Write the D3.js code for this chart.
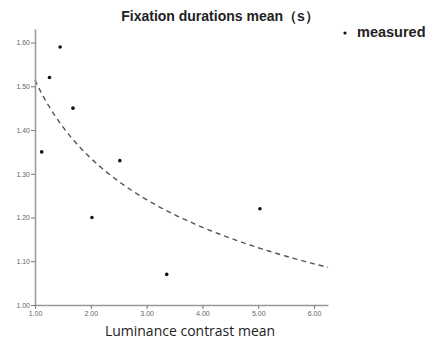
<!DOCTYPE html>
<html>
<head>
<meta charset="utf-8">
<title>Fixation durations</title>
<script src="https://d3js.org/d3.v7.min.js"></script>
<style>
  body { margin: 0; background: #fff; }
</style>
</head>
<body>
<div id="chart"></div>
<script>
// measured points
let contrast = [1.12, 1.26, 1.45, 1.68, 2.02, 2.52, 3.36, 5.03];
let duration = [1.35, 1.52, 1.59, 1.45, 1.20, 1.33, 1.07, 1.22];

let xTicks = [1, 2, 3, 4, 5, 6];
let yTicks = [1.0, 1.1, 1.2, 1.3, 1.4, 1.5, 1.6];

let svgw = 427, svgh = 340;
let margen = {sup: 29, izq: 35, der: 99, inf: 35};
let vizw = svgw - margen.izq - margen.der;
let vizh = svgh - margen.sup - margen.inf;

let svg = d3.select('#chart').append('svg')
  .attr('width', svgw).attr('height', svgh)
  .style('font-family', 'Liberation Sans, Arial, sans-serif');

let escala_x = d3.scaleLinear().domain([1, 6.25]).range([0, vizw]);
let escala_y = d3.scaleLinear().domain([1, 1.631]).range([vizh, 0]);

let g = svg.append('g').attr('transform', `translate(${margen.izq},${margen.sup})`);

// power fit y = b0 * x^b1 on log-log (same as the original curve estimation)
let lx = contrast.map(Math.log), ly = duration.map(Math.log);
let mx = d3.mean(lx), my = d3.mean(ly);
let b1 = d3.sum(lx, (v, i) => (v - mx) * (ly[i] - my)) / d3.sum(lx, v => (v - mx) * (v - mx));
let b0 = Math.exp(my - b1 * mx);
let fitX = d3.range(1, 6.3, 0.05);

g.append('path')
  .datum(fitX)
  .attr('d', d3.line().x(d => escala_x(d)).y(d => escala_y(b0 * Math.pow(d, b1))))
  .attr('fill', 'none')
  .attr('stroke', '#555')
  .attr('stroke-width', 1.4)
  .attr('stroke-dasharray', '5,4');

// axes
let eje_x = d3.axisBottom(escala_x).tickValues(xTicks).tickFormat(d3.format('.2f')).tickSize(4).tickSizeOuter(0);
let eje_y = d3.axisLeft(escala_y).tickValues(yTicks).tickFormat(d3.format('.2f')).tickSize(4).tickSizeOuter(0);

let gx = g.append('g').attr('transform', `translate(0,${vizh})`).call(eje_x);
let gy = g.append('g').call(eje_y);
[gx, gy].forEach(a => {
  a.select('.domain').attr('stroke', '#999').attr('stroke-width', 1.5);
  a.selectAll('.tick line').attr('stroke', '#777');
  a.selectAll('.tick text').attr('fill', '#666').style('font-size', '7px');
});
gy.selectAll('.tick text').attr('x', -5);
gx.selectAll('.tick text').attr('y', 6);

// points
g.selectAll('circle.pt')
  .data(contrast)
  .enter().append('circle')
  .attr('class', 'pt')
  .attr('cx', (d, i) => escala_x(d))
  .attr('cy', (d, i) => escala_y(duration[i]))
  .attr('r', 1.8)
  .attr('fill', '#111');

// title
svg.append('text')
  .attr('x', 220).attr('y', 21)
  .attr('text-anchor', 'middle')
  .style('font-size', '14px').style('font-weight', 'bold').attr('fill', '#222')
  .text('Fixation durations mean（s）');

// legend
svg.append('circle').attr('cx', 345).attr('cy', 33).attr('r', 1.6).attr('fill', '#111');
svg.append('text')
  .attr('x', 357).attr('y', 37)
  .style('font-size', '14.5px').style('font-weight', 'bold').attr('fill', '#222')
  .text('measured');

// x label
svg.append('text')
  .attr('x', 190).attr('y', 336)
  .attr('text-anchor', 'middle')
  .style('font-family', 'Open Sans, sans-serif')
  .style('font-size', '14px').attr('fill', '#222')
  .text('Luminance contrast mean');
</script>
</body>
</html>
